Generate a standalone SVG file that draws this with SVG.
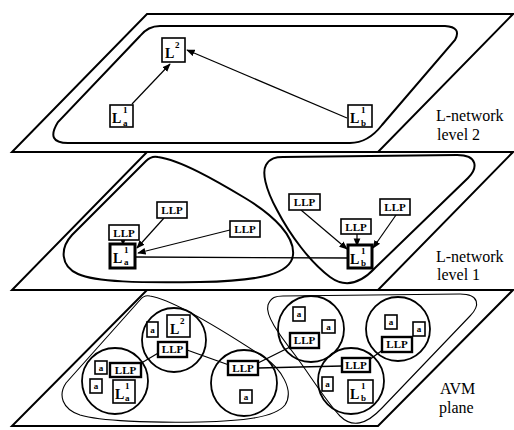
<svg xmlns="http://www.w3.org/2000/svg" width="514" height="430" viewBox="0 0 514 430">
<defs>
<style>
.plane{fill:none;stroke:#000;stroke-width:2;stroke-linejoin:miter}
.region{fill:none;stroke:#000;stroke-width:2}
.thin{fill:none;stroke:#000;stroke-width:1.1}
.circ{fill:none;stroke:#000;stroke-width:1.8}
.box{fill:#fff;stroke:#000;stroke-width:1.6}
.thick{fill:#fff;stroke:#000;stroke-width:3}
.dbl{fill:#fff;stroke:#000;stroke-width:2.4}
.edge{fill:none;stroke:#000;stroke-width:1.2}
.link{fill:none;stroke:#000;stroke-width:1.3}
text{font-family:"Liberation Serif","Times New Roman",serif;fill:#000}
.lab{font-size:16px}
.llp{font-size:11px;font-weight:bold}
.a{font-size:9px;font-weight:bold}
.L{font-size:14px;font-weight:bold}
.sup{font-size:9px;font-weight:bold}
</style>
<marker id="ah" viewBox="0 0 10 10" refX="9" refY="5" markerWidth="7" markerHeight="7" orient="auto"><path d="M0,1 L10,5 L0,9 Z" fill="#000"/></marker>
</defs>
<rect width="514" height="430" fill="#fff"/>

<g id="planes">
<polygon class="plane" points="147,14 513,14 378,152 12,152"/>
<polygon class="plane" points="147,152 513,152 378,290 12,290"/>
<polygon class="plane" points="147,290 513,290 378,426 12,426"/>
</g>

<g id="regions">
<path class="region" d="M160,26 L445,26 Q462,27 455,40 L382,125 Q368,143 350,143 L68,143 Q45,143 58,122 L140,36 Q148,26 160,26 Z"/>
<path class="region" d="M158,157 C180,160 215,180 245,198 C275,216 295,237 293,255 C291,274 260,281 200,282 C140,283 95,282 78,274 C60,266 60,248 72,235 L146,161 C150,157 154,156 158,157 Z"/>
<path class="region" d="M283,157 L457,155 C478,155 478,168 468,178 L375,268 C360,284 345,288 330,277 C310,262 290,235 277,210 C265,188 262,172 266,165 C270,158 276,157 283,157 Z"/>
<path class="thin" d="M150,296 C175,300 230,335 265,358 C280,368 295,390 285,405 C275,418 240,421 200,422 C150,423 100,421 80,415 C62,409 58,395 66,383 L140,300 C143,296 146,295 150,296 Z"/>
<path class="thin" d="M283,296 L460,294 C480,294 480,306 470,316 L382,408 C366,425 352,428 340,416 C325,400 310,375 295,355 C278,333 265,315 268,305 C271,297 276,296 283,296 Z"/>
</g>

<g id="circles">
<circle class="circ" cx="115" cy="381" r="33"/>
<circle class="circ" cx="174" cy="340" r="32"/>
<circle class="circ" cx="244" cy="383" r="33"/>
<circle class="circ" cx="311" cy="329" r="33"/>
<circle class="circ" cx="351" cy="381" r="33"/>
<circle class="circ" cx="398" cy="329" r="32"/>
</g>

<g id="connectors">
<line class="edge" x1="132" y1="104" x2="170" y2="64" marker-end="url(#ah)"/>
<line class="edge" x1="347" y1="118" x2="187" y2="50" marker-end="url(#ah)"/>
<line class="edge" x1="123" y1="240" x2="123" y2="245" marker-end="url(#ah)"/>
<line class="edge" x1="164" y1="218" x2="137" y2="248" marker-end="url(#ah)"/>
<line class="edge" x1="230" y1="230" x2="138" y2="253" marker-end="url(#ah)"/>
<line class="link" x1="136" y1="257" x2="348" y2="258"/>
<line class="edge" x1="301" y1="210" x2="347" y2="249" marker-end="url(#ah)"/>
<line class="edge" x1="357" y1="233" x2="357" y2="246" marker-end="url(#ah)"/>
<line class="edge" x1="396" y1="215" x2="373" y2="248" marker-end="url(#ah)"/>
<line class="link" x1="138" y1="365" x2="160" y2="352"/>
<line class="link" x1="187" y1="350" x2="229" y2="365"/>
<line class="link" x1="258" y1="368" x2="342" y2="366"/>
<line class="link" x1="258" y1="363" x2="292" y2="346"/>
<line class="link" x1="369" y1="360" x2="384" y2="349"/>
</g>

<g id="top-L2"><rect class="box" x="162" y="38" width="23" height="24"/><text class="L" x="165" y="58">L</text><text class="sup" x="175" y="48">2</text></g>
<g id="top-La"><rect class="box" x="110" y="105" width="23" height="22"/><text class="L" x="112" y="123">L</text><text class="sup" x="123" y="113">1</text><text class="sup" x="123" y="126">a</text></g>
<g id="top-Lb"><rect class="box" x="348" y="105" width="24" height="22"/><text class="L" x="350" y="123">L</text><text class="sup" x="361" y="113">1</text><text class="sup" x="361" y="126">b</text></g>

<g id="mid-La"><rect class="thick" x="110" y="244" width="25" height="24"/><text class="L" x="113" y="263">L</text><text class="sup" x="124" y="253">1</text><text class="sup" x="124" y="265">a</text></g>
<g id="mid-Lb"><rect class="thick" x="348" y="245" width="24" height="23"/><text class="L" x="350" y="264">L</text><text class="sup" x="361" y="254">1</text><text class="sup" x="361" y="266">b</text></g>
<g id="mid-llp1"><rect class="box" x="109" y="225" width="30" height="15"/><text class="llp" x="124" y="237" text-anchor="middle">LLP</text></g>
<g id="mid-llp2"><rect class="box" x="157" y="202" width="30" height="16"/><text class="llp" x="172" y="214" text-anchor="middle">LLP</text></g>
<g id="mid-llp3"><rect class="box" x="230" y="221" width="30" height="16"/><text class="llp" x="245" y="233" text-anchor="middle">LLP</text></g>
<g id="mid-llp4"><rect class="box" x="289" y="194" width="31" height="16"/><text class="llp" x="304.5" y="206" text-anchor="middle">LLP</text></g>
<g id="mid-llp5"><rect class="box" x="341" y="219" width="30" height="15"/><text class="llp" x="356" y="231" text-anchor="middle">LLP</text></g>
<g id="mid-llp6"><rect class="box" x="380" y="199" width="30" height="16"/><text class="llp" x="395" y="211" text-anchor="middle">LLP</text></g>

<g id="c1-a1"><rect class="box" x="95" y="361" width="12" height="13"/><text class="a" x="101" y="371" text-anchor="middle">a</text></g>
<g id="c1-a2"><rect class="box" x="90" y="379" width="12" height="14"/><text class="a" x="96" y="389" text-anchor="middle">a</text></g>
<g id="c1-llp"><rect class="dbl" x="110" y="363" width="31" height="14"/><text class="llp" x="125.5" y="374" text-anchor="middle">LLP</text></g>
<g id="c1-La"><rect class="box" x="113" y="380" width="22" height="23"/><text class="L" x="115" y="399">L</text><text class="sup" x="125" y="389">1</text><text class="sup" x="125" y="401">a</text></g>

<g id="c2-a"><rect class="box" x="147" y="322" width="11" height="15"/><text class="a" x="152.5" y="333" text-anchor="middle">a</text></g>
<g id="c2-L2"><rect class="box" x="167" y="315" width="23" height="22"/><text class="L" x="170" y="334">L</text><text class="sup" x="180" y="324">2</text></g>
<g id="c2-llp"><rect class="dbl" x="158" y="342" width="29" height="15"/><text class="llp" x="172.5" y="353" text-anchor="middle">LLP</text></g>

<g id="c3-llp"><rect class="dbl" x="228" y="361" width="30" height="14"/><text class="llp" x="243" y="372" text-anchor="middle">LLP</text></g>
<g id="c3-a"><rect class="box" x="240" y="390" width="12" height="13"/><text class="a" x="246" y="400" text-anchor="middle">a</text></g>

<g id="c4-a1"><rect class="box" x="293" y="307" width="12" height="14"/><text class="a" x="299" y="317" text-anchor="middle">a</text></g>
<g id="c4-a2"><rect class="box" x="322" y="320" width="13" height="13"/><text class="a" x="328.5" y="330" text-anchor="middle">a</text></g>
<g id="c4-llp"><rect class="dbl" x="290" y="333" width="29" height="15"/><text class="llp" x="304.5" y="344" text-anchor="middle">LLP</text></g>

<g id="c5-llp"><rect class="dbl" x="342" y="358" width="28" height="14"/><text class="llp" x="356" y="369" text-anchor="middle">LLP</text></g>
<g id="c5-a"><rect class="box" x="322" y="377" width="11" height="14"/><text class="a" x="327.5" y="387" text-anchor="middle">a</text></g>
<g id="c5-Lb"><rect class="box" x="348" y="380" width="25" height="23"/><text class="L" x="350" y="399">L</text><text class="sup" x="361" y="389">1</text><text class="sup" x="361" y="401">b</text></g>

<g id="c6-a1"><rect class="box" x="385" y="315" width="12" height="14"/><text class="a" x="391" y="325" text-anchor="middle">a</text></g>
<g id="c6-a2"><rect class="box" x="413" y="322" width="12" height="14"/><text class="a" x="419" y="332" text-anchor="middle">a</text></g>
<g id="c6-llp"><rect class="dbl" x="382" y="337" width="30" height="15"/><text class="llp" x="397" y="348" text-anchor="middle">LLP</text></g>

<g id="labels">
<text class="lab" x="436" y="121">L-network</text>
<text class="lab" x="437" y="140">level 2</text>
<text class="lab" x="436" y="262">L-network</text>
<text class="lab" x="437" y="280">level 1</text>
<text class="lab" x="440" y="394">AVM</text>
<text class="lab" x="439" y="413">plane</text>
</g>
</svg>
